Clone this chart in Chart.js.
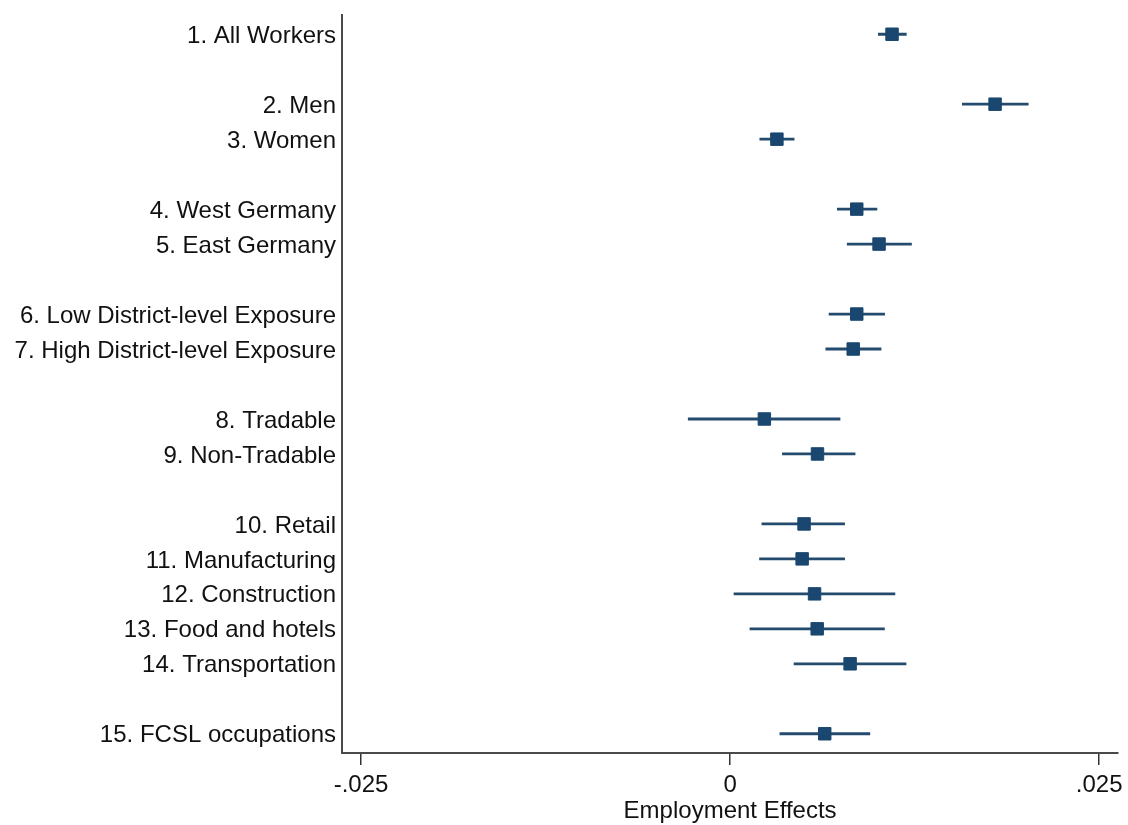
<!DOCTYPE html>
<html>
<head>
<meta charset="utf-8">
<title>Employment Effects</title>
<script src="https://cdn.jsdelivr.net/npm/chart.js@4.4.1/dist/chart.umd.min.js"></script>
<style>
    html, body { margin: 0; padding: 0; background: #fff; }
    #wrap { width: 1128px; height: 825px; }
</style>
</head>
<body>
<div id="wrap"><canvas id="coefChart" width="1128" height="825"></canvas></div>
<script>
// Rows from top to bottom, '' = blank spacer between groups
const categories = [
    '1. All Workers', '',
    '2. Men', '3. Women', '',
    '4. West Germany', '5. East Germany', '',
    '6. Low District-level Exposure', '7. High District-level Exposure', '',
    '8. Tradable', '9. Non-Tradable', '',
    '10. Retail', '11. Manufacturing', '12. Construction', '13. Food and hotels', '14. Transportation', '',
    '15. FCSL occupations'
];

// Point estimates and confidence bounds, one per labelled row
const estimates = [0.01097, 0.01795, 0.00317, 0.00858, 0.01009, 0.00858, 0.00834, 0.00232, 0.00592, 0.00501, 0.00488, 0.00572, 0.00590, 0.00813, 0.00641];
const ciLow     = [0.01002, 0.01571, 0.00199, 0.00724, 0.00791, 0.00668, 0.00646, -0.00286, 0.00352, 0.00213, 0.00197, 0.00024, 0.00132, 0.00431, 0.00335];
const ciHigh    = [0.01196, 0.02022, 0.00436, 0.00997, 0.01231, 0.01049, 0.01025, 0.00747, 0.00849, 0.00778, 0.00778, 0.01119, 0.01048, 0.01194, 0.00949];

const xTicks = [-0.025, 0, 0.025];
const xTickLabels = ['-.025', '0', '.025'];

const navy = '#1a476f';
const lineColor = '#244b6e';
const textColor = '#111';
const font = "'Liberation Sans', Arial, Helvetica, sans-serif";

// slot index of each labelled row
const rowIndex = categories.map((c, i) => c ? i : -1).filter(i => i >= 0);

const ciDatasets = rowIndex.map((slot, i) => ({
    type: 'line',
    data: [{ x: ciLow[i], y: slot }, { x: ciHigh[i], y: slot }],
    borderColor: lineColor,
    borderWidth: 2.8,
    pointRadius: 0,
    fill: false,
    order: 2
}));

const pointDataset = {
    type: 'scatter',
    data: rowIndex.map((slot, i) => ({ x: estimates[i], y: slot })),
    pointStyle: 'rect',
    pointRadius: 8.8,
    backgroundColor: navy,
    borderColor: navy,
    borderWidth: 1,
    order: 1
};

new Chart(document.getElementById('coefChart'), {
    data: { datasets: [...ciDatasets, pointDataset] },
    options: {
        responsive: false,
        animation: false,
        devicePixelRatio: 1,
        layout: { padding: { top: 15, right: 9, left: 0, bottom: 0 } },
        plugins: {
            legend: { display: false },
            tooltip: { enabled: false }
        },
        scales: {
            x: {
                type: 'linear',
                min: -0.02629,
                max: 0.02629,
                afterBuildTicks: scale => { scale.ticks = xTicks.map(v => ({ value: v })); },
                afterFit: scale => {
                    scale.height = 72;
                    scale.paddingLeft = 0;
                    scale.paddingRight = 0;
                },
                grid: { display: true, drawOnChartArea: false, drawTicks: true, tickLength: 12, color: '#333', lineWidth: 1.5 },
                border: { display: true, color: '#4a4a4a', width: 2 },
                ticks: {
                    padding: 6,
                    color: textColor,
                    font: { family: font, size: 24 },
                    maxRotation: 0,
                    callback: (v) => xTickLabels[xTicks.indexOf(v)]
                },
                title: {
                    display: true,
                    text: 'Employment Effects',
                    color: textColor,
                    font: { family: font, size: 24 },
                    padding: { top: 0, bottom: -1 }
                }
            },
            y: {
                type: 'linear',
                reverse: true,
                min: -0.55,
                max: 20.55,
                afterBuildTicks: scale => { scale.ticks = rowIndex.map(v => ({ value: v })); },
                afterFit: scale => {
                    scale.width = 342;
                    // labels sit well inside the axis, no extra room needed
                    scale.paddingTop = 0;
                    scale.paddingBottom = 0;
                },
                grid: { display: false, drawTicks: false },
                border: { display: true, color: '#4a4a4a', width: 2 },
                ticks: {
                    padding: 6,
                    labelOffset: 2,
                    color: textColor,
                    font: { family: font, size: 24 },
                    autoSkip: false,
                    callback: (v) => categories[v]
                }
            }
        }
    }
});
</script>
</body>
</html>
